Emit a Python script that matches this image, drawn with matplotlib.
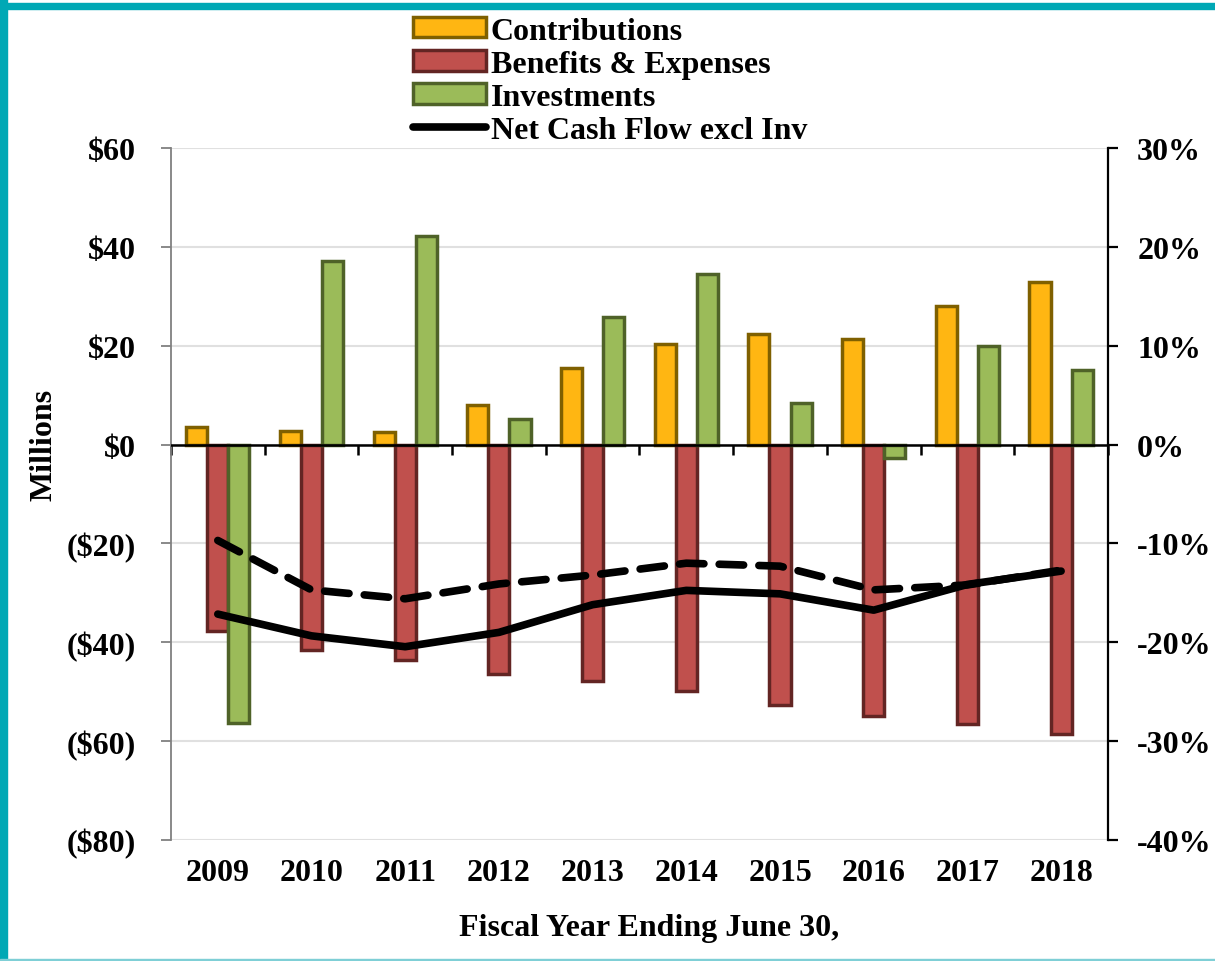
import matplotlib
matplotlib.use("Agg")
import matplotlib.pyplot as plt
import numpy as np
from matplotlib.ticker import FuncFormatter, MultipleLocator
from matplotlib.patches import Rectangle

plt.rcParams['font.family'] = ['Liberation Serif', 'DejaVu Serif']
plt.rcParams['font.weight'] = 'bold'

years = ['2009', '2010', '2011', '2012', '2013', '2014', '2015', '2016', '2017', '2018']
contributions = [3.6, 2.8, 2.6, 8.1, 15.4, 20.4, 22.4, 21.4, 28.1, 32.9]
benefits = [-37.8, -41.6, -43.6, -46.5, -47.9, -49.9, -52.7, -55.0, -56.6, -58.6]
investments = [-56.4, 37.2, 42.2, 5.1, 25.9, 34.5, 8.5, -2.8, 20.0, 15.0]
net_cash_flow = [-34.3, -38.7, -40.9, -38.0, -32.4, -29.5, -30.2, -33.5, -28.3, -25.6]
net_pct = [-9.7, -14.7, -15.6, -14.1, -13.2, -12.0, -12.3, -14.7, -14.2, -12.7]

FS = 23
x = np.arange(len(years))
w = 0.225

fig = plt.figure(figsize=(12.15, 9.62), dpi=100)
ax = fig.add_axes([0.1407, 0.1258, 0.9119 - 0.1407, 0.8451 - 0.1258])

ax.bar(x - w, contributions, w, color='#FFB612', edgecolor='#7F6000', linewidth=2.5,
       label='Contributions', zorder=3)
ax.bar(x, benefits, w, color='#C0504D', edgecolor='#632523', linewidth=2.5,
       label='Benefits & Expenses', zorder=3)
ax.bar(x + w, investments, w, color='#9BBB59', edgecolor='#4F6228', linewidth=2.5,
       label='Investments', zorder=3)
ax.plot(x, net_cash_flow, color='black', linewidth=5.5, solid_capstyle='round',
        label='Net Cash Flow excl Inv', zorder=5)
ax.axhline(0, color='black', linewidth=1.8, zorder=4)

ax.set_xlim(-0.5, len(years) - 0.5)
ax.set_ylim(-80, 60)
ax.yaxis.set_major_locator(MultipleLocator(20))
ax.yaxis.set_major_formatter(FuncFormatter(
    lambda v, p: f'${v:.0f}' if v >= 0 else f'(${-v:.0f})'))
ax.grid(axis='y', color='#e0e0e0', linewidth=1.5, zorder=0)
ax.set_axisbelow(True)
ax.set_xticks(x)
ax.set_xticklabels(years)
ax.tick_params(axis='x', length=0, pad=13, labelsize=FS)
ax.tick_params(axis='y', length=7, width=1.3, color='#808080', pad=18, labelsize=FS)
for s in ['top', 'right', 'bottom']:
    ax.spines[s].set_visible(False)
ax.spines['left'].set_color('#808080')
ax.spines['left'].set_linewidth(1.3)

# category boundary ticks on the zero line
sec = ax.secondary_xaxis(80 / 140)
sec.set_xticks(np.arange(len(years) + 1) - 0.5)
sec.tick_params(axis='x', direction='out', length=7, width=1.8, labelbottom=False,
                labeltop=False, top=False, bottom=True)
sec.spines['bottom'].set_visible(False)
sec.spines['top'].set_visible(False)

ax.set_ylabel('Millions', fontsize=FS, fontweight='bold')
ax.yaxis.set_label_coords(-0.12, 0.572)
ax.set_xlabel('Fiscal Year Ending June 30,', fontsize=FS, fontweight='bold')
ax.xaxis.set_label_coords(0.51, -0.105)

ax2 = ax.twinx()
ax2.plot(x, net_pct, color='black', linewidth=5.5, linestyle=(0, (3.2, 2.0)),
         dash_capstyle='round', zorder=5)
ax2.set_ylim(-40, 30)
ax2.yaxis.set_major_locator(MultipleLocator(10))
ax2.yaxis.set_major_formatter(FuncFormatter(lambda v, p: f'{v:.0f}%'))
ax2.tick_params(axis='y', length=7, width=1.6, color='black', pad=14, labelsize=FS)
for s in ['top', 'left', 'bottom']:
    ax2.spines[s].set_visible(False)
ax2.spines['right'].set_linewidth(1.6)

handles, labels = ax.get_legend_handles_labels()
order = [1, 2, 3, 0]
leg = fig.legend([handles[i] for i in order], [labels[i] for i in order],
                 loc='upper left', bbox_to_anchor=(0.329, 0.995), frameon=False,
                 prop={'weight': 'bold', 'size': FS},
                 handlelength=2.3, handleheight=0.6, handletextpad=0.15,
                 labelspacing=0.13, borderaxespad=0)

# teal frame
teal = '#00A8B5'
fig.add_artist(Rectangle((0, 0), 0.006, 1, transform=fig.transFigure,
                         color=teal, zorder=10))
fig.add_artist(Rectangle((0, 0.9895), 1, 0.0065, transform=fig.transFigure,
                         color=teal, zorder=10))
fig.add_artist(Rectangle((0, 0), 1, 0.002, transform=fig.transFigure,
                         color='#7fcfd6', zorder=10))

fig.savefig('out.png', dpi=100)
